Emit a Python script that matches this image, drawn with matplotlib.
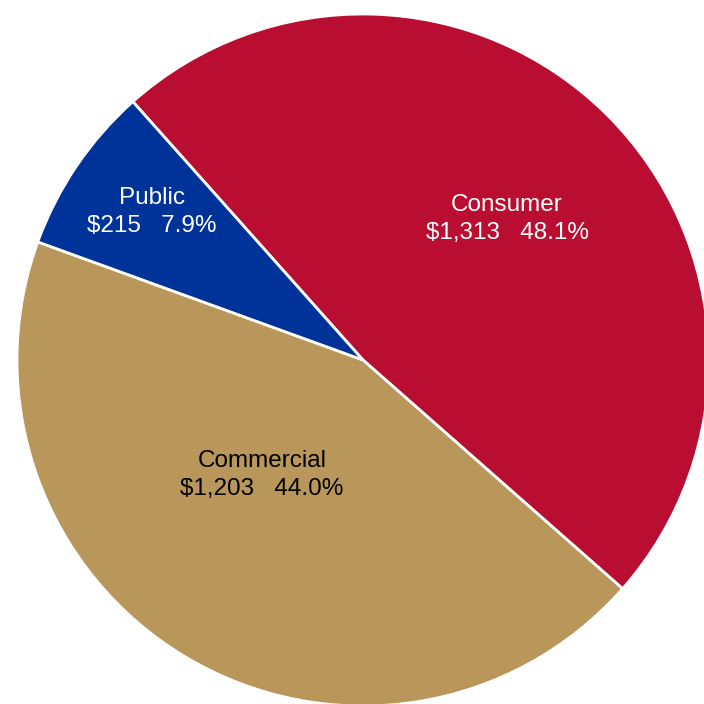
import matplotlib.pyplot as plt
import numpy as np

# data (in $ millions)
segments = ["Consumer", "Commercial", "Public"]
amounts = [1313, 1203, 215]
colors = ["#B90E31", "#B9975B", "#00339A"]
text_colors = ["white", "black", "white"]

total = sum(amounts)
pcts = [a / total * 100 for a in amounts]

plt.rcParams['font.family'] = ['Liberation Sans', 'DejaVu Sans']

fig = plt.figure(figsize=(7.04, 7.04), dpi=100)
ax = fig.add_axes([0, 0, 1, 1])

cx, cy, R = 363, 344, 346
wedges, _ = ax.pie(amounts, colors=colors, startangle=131.7, counterclock=False,
                   center=(cx, cy), radius=R,
                   wedgeprops=dict(edgecolor="white", linewidth=2))

# label placement (pixel coords of the image, y from top)
label_pos = [(507, 219), (262, 475), (152, 212)]

for name, amt, p, tc, (lx, ly) in zip(segments, amounts, pcts, text_colors, label_pos):
    ax.text(lx, 704 - ly, f"{name}\n${amt:,}   {p:.1f}%", ha="center", va="center",
            multialignment="center", color=tc, fontsize=17.5, linespacing=1.4)

ax.set_xlim(0, 704)
ax.set_ylim(0, 704)
ax.set_aspect("equal")
ax.axis("off")

fig.savefig("out.png", dpi=100)
